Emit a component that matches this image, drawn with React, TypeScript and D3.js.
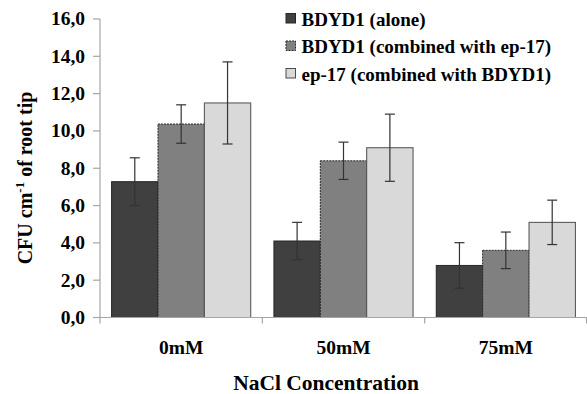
import React from 'react';
import * as d3 from 'd3';

const categories = ['0mM', '50mM', '75mM'];
const seriesNames = ['BDYD1 (alone)', 'BDYD1 (combined with ep-17)', 'ep-17 (combined with BDYD1)'];
const meanValues = [
  [7.28, 4.1, 2.79],
  [10.37, 8.4, 3.6],
  [11.5, 9.1, 5.1],
];
const errorValues = [
  [1.28, 1.0, 1.22],
  [1.03, 1.0, 0.98],
  [2.2, 1.8, 1.19],
];
const yTicks = [0, 2, 4, 6, 8, 10, 12, 14, 16];
const fills = ['#404040', '#808080', '#d9d9d9'];
const strokes = ['#262626', '#262626', '#4d4d4d'];

const FONT = 'Liberation Serif';
const AXIS = '#a6a6a6';

const left = 100, right = 587, top = 19, bottom = 317.5;

const x = d3.scaleBand().domain(categories).range([left, right]).paddingInner(0).paddingOuter(0);
const inner = d3.scaleBand().domain(seriesNames).range([0, x.bandwidth()]).paddingOuter(0.25).paddingInner(0);
const y = d3.scaleLinear().domain([0, 16]).range([bottom, top]);
const fmt = (v: number) => d3.format('.1f')(v).replace('.', ',');

const App = () => {
  const xTicks = [...categories.map(c => x(c) as number), right - 0.5];
  return (
    <svg width={587} height={394} fontFamily={FONT} fontWeight="bold"
      style={{ position: 'absolute', left: 0, top: 0, background: '#fff' }}>
      {/* y axis */}
      <line x1={left} x2={left} y1={top} y2={bottom} stroke={AXIS} strokeWidth={1.2} />
      {yTicks.map(t => (
        <g key={t} transform={`translate(0,${y(t)})`}>
          <line x1={left - 7} x2={left} stroke={AXIS} strokeWidth={1.2} />
          <text x={left - 15} dy="0.33em" textAnchor="end" fontSize={19.5}>{fmt(t)}</text>
        </g>
      ))}

      {/* bars */}
      {seriesNames.map((s, si) => categories.map((c, ci) => {
        const v = meanValues[si][ci];
        return (
          <rect key={s + c} x={(x(c) as number) + (inner(s) as number)} y={y(v)}
            width={inner.bandwidth()} height={y(0) - y(v)} fill={fills[si]}
            stroke={strokes[si]} strokeWidth={1} strokeDasharray={si === 1 ? '2,1' : undefined} />
        );
      }))}

      {/* x axis */}
      <line x1={left - 7} x2={right} y1={bottom} y2={bottom} stroke={AXIS} strokeWidth={1.2} />
      {xTicks.map((t, i) => (
        <line key={i} x1={t} x2={t} y1={bottom} y2={bottom + 6} stroke={AXIS} strokeWidth={1.2} />
      ))}
      {categories.map(c => (
        <text key={c} x={(x(c) as number) + x.bandwidth() / 2} y={bottom + 36}
          textAnchor="middle" fontSize={19.5}>{c}</text>
      ))}

      {/* error bars */}
      {seriesNames.map((s, si) => categories.map((c, ci) => {
        const v = meanValues[si][ci], e = errorValues[si][ci];
        const cx = (x(c) as number) + (inner(s) as number) + inner.bandwidth() / 2;
        return (
          <g key={s + c} stroke="#333" strokeWidth={1.2}>
            <line x1={cx} x2={cx} y1={y(v + e)} y2={y(v - e)} />
            <line x1={cx - 5} x2={cx + 5} y1={y(v + e)} y2={y(v + e)} />
            <line x1={cx - 5} x2={cx + 5} y1={y(v - e)} y2={y(v - e)} />
          </g>
        );
      }))}

      {/* axis titles */}
      <text x={326} y={390} textAnchor="middle" fontSize={21.5}>NaCl Concentration</text>
      <text transform="translate(32,178) rotate(-90)" textAnchor="middle" fontSize={20}>
        <tspan>CFU cm</tspan>
        <tspan dy={-8} fontSize={13}>-1</tspan>
        <tspan dy={8}> of root tip</tspan>
      </text>

      {/* legend */}
      {seriesNames.map((s, si) => (
        <g key={s} transform={`translate(286,${13.5 + si * 27.5})`}>
          <rect width={9.5} height={9.5} fill={fills[si]} stroke={strokes[si]}
            strokeDasharray={si === 1 ? '2,1' : undefined} />
          <text x={15.5} y={12.2} fontSize={19}>{s}</text>
        </g>
      ))}
    </svg>
  );
};

export default App;
